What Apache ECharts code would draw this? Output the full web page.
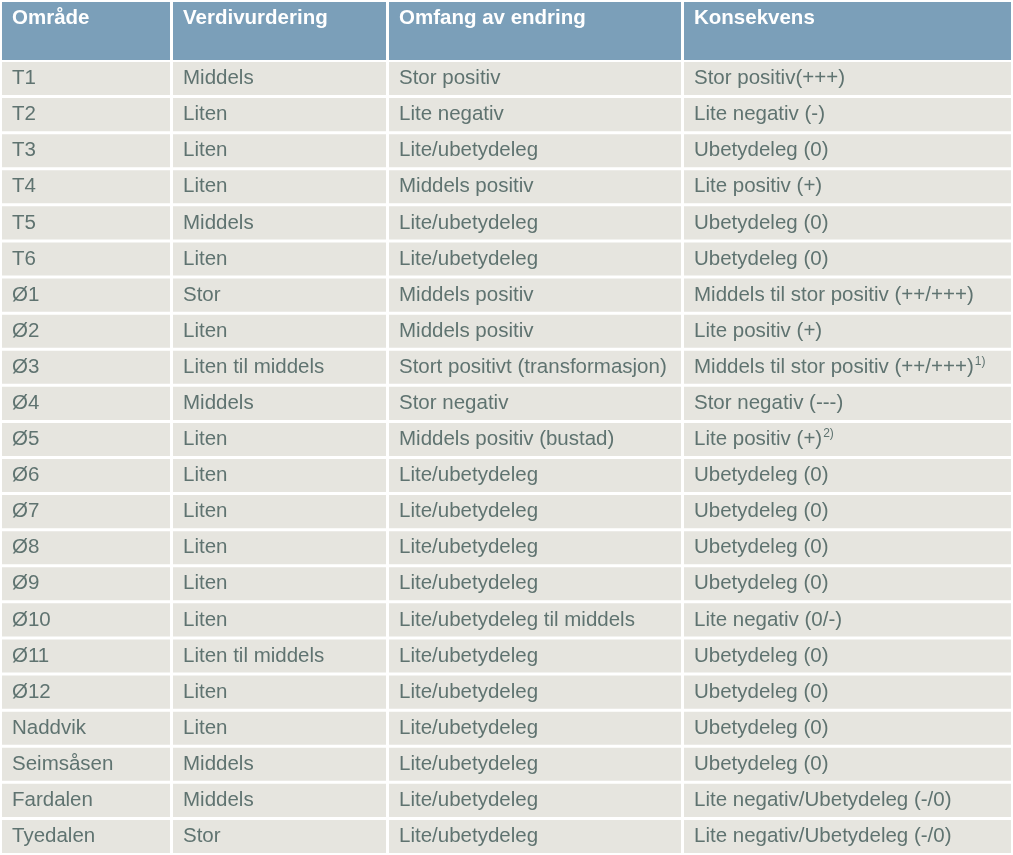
<!DOCTYPE html>
<html>
<head>
<meta charset="utf-8">
<script src="https://cdn.jsdelivr.net/npm/echarts@6/dist/echarts.min.js"></script>
<style>
  html, body { margin: 0; padding: 0; background: #fff; }
  #chart { width: 1013px; height: 855px; }
</style>
</head>
<body>
<div id="chart"></div>
<script>
// table content
const headers = ['Område', 'Verdivurdering', 'Omfang av endring', 'Konsekvens'];
const areas = ['T1', 'T2', 'T3', 'T4', 'T5', 'T6', 'Ø1', 'Ø2', 'Ø3', 'Ø4', 'Ø5', 'Ø6', 'Ø7', 'Ø8', 'Ø9', 'Ø10', 'Ø11', 'Ø12', 'Naddvik', 'Seimsåsen', 'Fardalen', 'Tyedalen'];
const verdi = ['Middels', 'Liten', 'Liten', 'Liten', 'Middels', 'Liten', 'Stor', 'Liten', 'Liten til middels', 'Middels', 'Liten', 'Liten', 'Liten', 'Liten', 'Liten', 'Liten', 'Liten til middels', 'Liten', 'Liten', 'Middels', 'Middels', 'Stor'];
const omfang = ['Stor positiv', 'Lite negativ', 'Lite/ubetydeleg', 'Middels positiv', 'Lite/ubetydeleg', 'Lite/ubetydeleg', 'Middels positiv', 'Middels positiv', 'Stort positivt (transformasjon)', 'Stor negativ', 'Middels positiv (bustad)', 'Lite/ubetydeleg', 'Lite/ubetydeleg', 'Lite/ubetydeleg', 'Lite/ubetydeleg', 'Lite/ubetydeleg til middels', 'Lite/ubetydeleg', 'Lite/ubetydeleg', 'Lite/ubetydeleg', 'Lite/ubetydeleg', 'Lite/ubetydeleg', 'Lite/ubetydeleg'];
const konsekvens = ['Stor positiv(+++)', 'Lite negativ (-)', 'Ubetydeleg (0)', 'Lite positiv (+)', 'Ubetydeleg (0)', 'Ubetydeleg (0)', 'Middels til stor positiv (++/+++)', 'Lite positiv (+)', 'Middels til stor positiv (++/+++)', 'Stor negativ (---)', 'Lite positiv (+)', 'Ubetydeleg (0)', 'Ubetydeleg (0)', 'Ubetydeleg (0)', 'Ubetydeleg (0)', 'Lite negativ (0/-)', 'Ubetydeleg (0)', 'Ubetydeleg (0)', 'Ubetydeleg (0)', 'Ubetydeleg (0)', 'Lite negativ/Ubetydeleg (-/0)', 'Lite negativ/Ubetydeleg (-/0)'];
const notes = ['', '', '', '', '', '', '', '', '1)', '', '2)', '', '', '', '', '', '', '', '', '', '', ''];

// layout (axis units = px from grid left)
const colLeft = [0, 171, 387, 682];
const colRight = [168, 384, 679, 1009];
const FONT = '"Liberation Sans", Arial, Helvetica, sans-serif';

const columns = [areas, verdi, omfang, konsekvens];
const bodyData = [];
areas.forEach((a, r) => {
  columns.forEach((col, c) => {
    let txt = col[r];
    if (c === 3 && notes[r]) txt += '{sup|' + notes[r] + '}';
    bodyData.push({ value: [c, r], text: txt });
  });
});
const headData = headers.map((h, c) => ({ value: [c, 0], text: h }));

function cellRenderer(isHead) {
  return function (params, api) {
    const c = api.value(0), r = api.value(1);
    const p0 = api.coord([colLeft[c], r]);
    const p1 = api.coord([colRight[c], r]);
    const bh = api.size([0, 1])[1];
    const top = isHead ? p0[1] - bh / 2 : p0[1] - bh / 2 + 1;
    const h = isHead ? bh : bh - 3;
    const item = (isHead ? headData : bodyData)[params.dataIndex];
    return {
      type: 'group',
      children: [
        {
          type: 'rect',
          shape: { x: p0[0], y: top, width: p1[0] - p0[0], height: h },
          style: { fill: isHead ? '#7b9fb9' : '#e6e5df' }
        },
        {
          type: 'text',
          style: {
            x: p0[0] + 10,
            y: isHead ? top + 6 : top + h / 2,
            text: item.text,
            fill: isHead ? '#ffffff' : '#5f7370',
            font: (isHead ? 'bold ' : '') + '20.5px ' + FONT,
            verticalAlign: isHead ? 'top' : 'middle',
            align: 'left',
            rich: {
              sup: { fontSize: 12, fontFamily: FONT, fill: '#5f7370', padding: [0, 0, 12, 1] }
            }
          }
        }
      ]
    };
  };
}

const chart = echarts.init(document.getElementById('chart'));
chart.setOption({
  animation: false,
  backgroundColor: '#ffffff',
  grid: [
    { left: 2, right: 2, top: 2, height: 58 },
    { left: 2, right: 2, top: 61, height: 795 }
  ],
  xAxis: [
    { type: 'value', gridIndex: 0, min: 0, max: 1009, show: false },
    { type: 'value', gridIndex: 1, min: 0, max: 1009, show: false }
  ],
  yAxis: [
    { type: 'category', gridIndex: 0, data: ['header'], show: false },
    { type: 'category', gridIndex: 1, data: areas, inverse: true, show: false }
  ],
  series: [
    {
      type: 'custom',
      xAxisIndex: 0, yAxisIndex: 0,
      renderItem: cellRenderer(true),
      data: headData
    },
    {
      type: 'custom',
      xAxisIndex: 1, yAxisIndex: 1,
      renderItem: cellRenderer(false),
      data: bodyData
    }
  ]
});
</script>
</body>
</html>
